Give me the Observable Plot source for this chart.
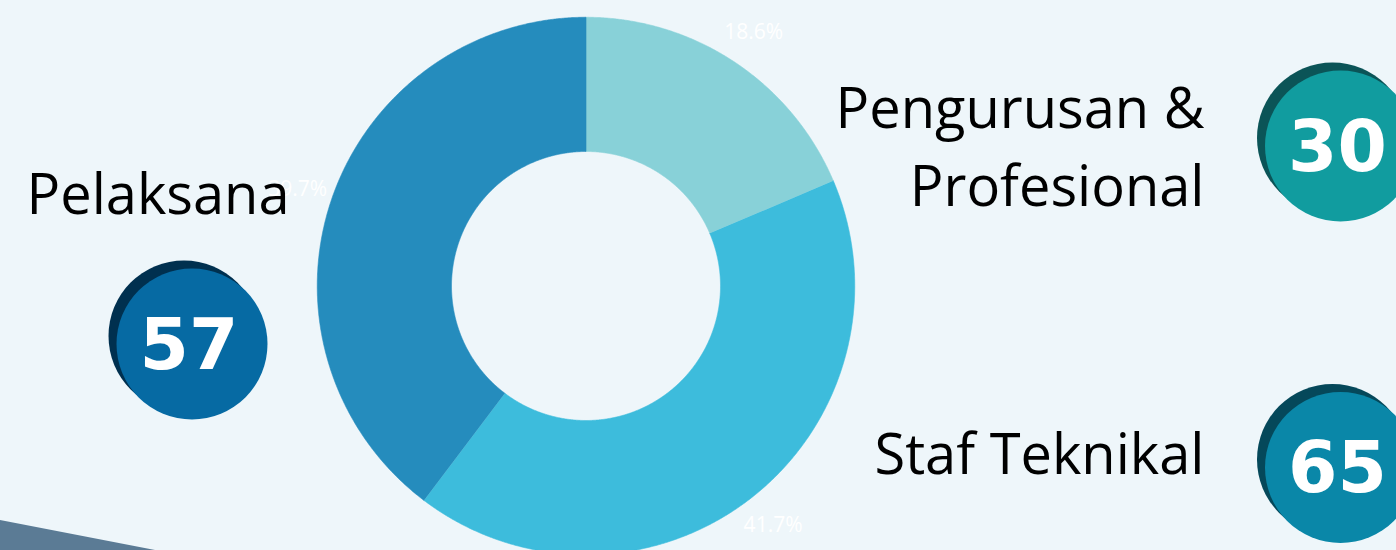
<!DOCTYPE html>
<html><head><meta charset="utf-8">
<script src="https://cdn.jsdelivr.net/npm/d3@7"></script>
<script src="https://cdn.jsdelivr.net/npm/@observablehq/plot@0.6"></script>
<style>
html,body{margin:0;padding:0;background:#eef6fa;overflow:hidden}
#wrap{position:relative;width:1396px;height:550px;background:#eef6fa}
#wedge{position:absolute;left:0;top:0;width:1396px;height:550px;background:#5b7b95;clip-path:polygon(0 520px,155px 550px,0 550px)}
#chart{position:absolute;left:0;top:0}
</style></head><body>
<div id="wrap"><div id="wedge"></div><div id="chart"></div></div>
<script>
// ---- data ----
const categories = ["Pengurusan & Profesional", "Staf Teknikal", "Pelaksana"];
const percents = [18.6, 41.7, 39.7];
const counts = [30, 65, 57];
const labelTexts = ["Pengurusan &\nProfesional", "Staf Teknikal", "Pelaksana"];
const sliceColors = ["#88d1d8", "#3dbcdc", "#258cbd"];
const badgeColors = ["#119c9f", "#0a87a8", "#066aa3"];
const badgeShadows = ["#0b5457", "#05485a", "#00304f"];

// ---- layout (pixels) ----
const W = 1396, H = 550;
const CX = 585.5, CY = 285.5, R_OUT = 268.75, R_IN = 134.5, R_LABEL = 304;
const layout = {
  "Pengurusan & Profesional": {lx: 1204, ly: 205, anchor: "end", bx: 1340, by: 145.5},
  "Staf Teknikal": {lx: 1204, ly: 473, anchor: "end", bx: 1340, by: 467},
  "Pelaksana": {lx: 26, ly: 213, anchor: "start", bx: 191.5, by: 343.5}
};

const rows = categories.map((c, i) => ({cat: c, pct: percents[i], count: counts[i], label: labelTexts[i], i}));
const arcs = d3.pie().sort(null).value(d => d.pct)(rows);

// polygon vertices for each slice (angles from 12 o'clock, clockwise)
const pts = [];
const step = Math.PI / 720;
for (const a of arcs) {
  const n = Math.max(2, Math.ceil((a.endAngle - a.startAngle) / step));
  for (let k = 0; k <= n; k++) {
    const t = a.startAngle + (a.endAngle - a.startAngle) * k / n;
    pts.push({cat: a.data.cat, x: R_OUT * Math.sin(t), y: R_OUT * Math.cos(t)});
  }
  for (let k = n; k >= 0; k--) {
    const t = a.startAngle + (a.endAngle - a.startAngle) * k / n;
    pts.push({cat: a.data.cat, x: R_IN * Math.sin(t), y: R_IN * Math.cos(t)});
  }
}
const pctLabels = arcs.map(a => {
  const m = (a.startAngle + a.endAngle) / 2;
  return {cat: a.data.cat, text: a.data.pct.toFixed(1) + "%", x: R_LABEL * Math.sin(m), y: R_LABEL * Math.cos(m)};
});

const px = v => v - CX;       // pixel x -> data x
const py = v => CY - v;       // pixel y -> data y

const marks = [
  Plot.line(pts, {x: "x", y: "y", z: "cat", fill: "cat", stroke: "cat", strokeWidth: 0.6, curve: "linear"}),
  Plot.text(pctLabels, {x: "x", y: "y", text: "text", fill: "#ffffff", fontSize: 21, fontFamily: "Open Sans"})
];
rows.forEach(r => {
  const L = layout[r.cat];
  marks.push(
    Plot.text([r], {x: () => px(L.lx), y: () => py(L.ly), text: "label", textAnchor: L.anchor, lineAnchor: "bottom",
      lineHeight: 1.38, fontSize: 56, fontFamily: "Open Sans", fill: "#000000"}),
    Plot.dot([r], {x: () => px(L.bx), y: () => py(L.by), r: 75.5, dx: -8, dy: -8, fill: badgeShadows[r.i], stroke: null}),
    Plot.dot([r], {x: () => px(L.bx), y: () => py(L.by), r: 75.5, fill: badgeColors[r.i], stroke: null}),
    Plot.text([r], {x: () => px(L.bx), y: () => py(L.by), text: d => String(d.count), dx: -3, dy: 2, fontSize: 71, fontWeight: "bold",
      fontFamily: "DejaVu Sans", fill: "#ffffff"})
  );
});

const chart = Plot.plot({
  width: W, height: H, margin: 0,
  x: {domain: [-CX, W - CX], axis: null},
  y: {domain: [CY - H, CY], axis: null},
  color: {domain: categories, range: sliceColors},
  style: {background: "transparent", overflow: "hidden"},
  marks
});
document.getElementById("chart").appendChild(chart);
</script>
</body></html>
